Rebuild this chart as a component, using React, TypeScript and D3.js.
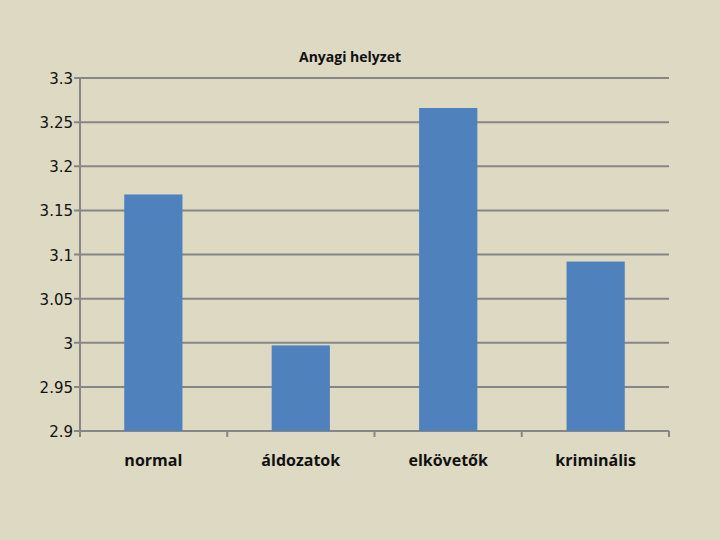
import React from "react";
import * as d3 from "d3";

const categories = ["normal", "áldozatok", "elkövetők", "kriminális"];
const values = [3.168, 2.997, 3.266, 3.092];
const yTicks = [2.9, 2.95, 3, 3.05, 3.1, 3.15, 3.2, 3.25, 3.3];
const title = "Anyagi helyzet";

export default function App() {
  const W = 720, H = 540;
  const left = 80, right = 669, top = 78, bottom = 431;
  const x = d3.scaleBand<string>().domain(categories).range([left, right]).paddingInner(0.605).paddingOuter(0.3);
  const y = d3.scaleLinear().domain([2.9, 3.3]).range([bottom, top]);
  const step = (right - left) / categories.length;
  const grid = "#868686";
  return (
    <svg width={W} height={H} style={{ position: "absolute", left: 0, top: 0 }}>
      <rect x={0} y={0} width={W} height={H} fill="#ddd9c3" />
      <text x={350} y={62} textAnchor="middle" fontFamily="'Open Sans', sans-serif" fontWeight="bold" fontSize={14} fill="#111">{title}</text>
      {yTicks.map((t) => (
        <g key={t}>
          <line x1={left - 6} x2={right} y1={y(t)} y2={y(t)} stroke={grid} strokeWidth={2} />
          <text x={left - 7} y={y(t) + 6} textAnchor="end" fontFamily="'DejaVu Sans', Verdana, sans-serif" fontSize={15} fill="#111">{String(t)}</text>
        </g>
      ))}
      {categories.map((c, i) => (
        <rect key={c} x={x(c)} y={y(values[i])} width={x.bandwidth()} height={bottom - y(values[i])} fill="#4f81bd" />
      ))}
      <line x1={left} x2={left} y1={top} y2={bottom + 6} stroke={grid} strokeWidth={2} />
      {d3.range(categories.length + 1).map((i) => (
        <line key={i} x1={left + i * step} x2={left + i * step} y1={bottom} y2={bottom + 6} stroke={grid} strokeWidth={2} />
      ))}
      {categories.map((c) => (
        <text key={c} x={(x(c) as number) + x.bandwidth() / 2} y={466} textAnchor="middle" fontFamily="'Open Sans', sans-serif" fontWeight="bold" fontSize={16} fill="#111">{c}</text>
      ))}
    </svg>
  );
}
